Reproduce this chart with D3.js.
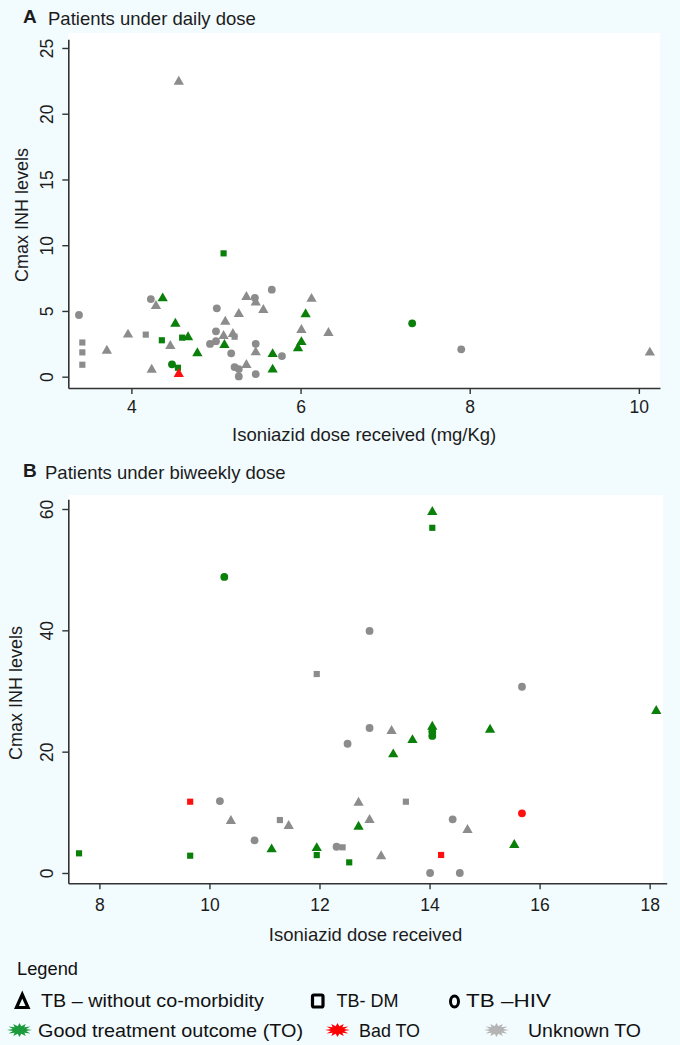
<!DOCTYPE html>
<html>
<head>
<meta charset="utf-8">
<script src="https://cdn.jsdelivr.net/npm/d3@7"></script>
<style>
  html, body { margin: 0; padding: 0; background: #f2fbfe; }
  svg { display: block; }
  text { font-family: "Liberation Sans", Arial, sans-serif; fill: #1c1c1c; }
  .leg { font-family: "Liberation Sans Narrow", "Liberation Sans", sans-serif; fill: #111; }
</style>
</head>
<body>
<script>
// ---------- Data ----------
// Panel A: patients under daily dose
const dailyDose = [3.38, 3.42, 3.42, 3.42, 3.71, 3.96, 4.17, 4.23, 4.29, 4.37, 4.24, 4.36, 4.46, 4.52, 4.48, 4.55, 4.56, 4.60, 4.67, 4.78,
  4.93, 5.01, 5.00, 5.00, 5.09, 5.10, 5.09, 5.11, 5.20, 5.22, 5.18, 5.27, 5.22, 5.27, 5.27, 5.36, 5.36, 5.46, 5.47, 5.47,
  5.47, 5.47, 5.56, 5.66, 5.67, 5.67, 5.78, 5.97, 6.01, 6.01, 6.06, 6.13, 6.33, 7.32, 7.90, 10.13, 4.56];
const dailyCmax = [4.69, 2.60, 1.85, 0.91, 1.98, 3.20, 3.20, 5.90, 5.38, 5.96, 0.53, 2.77, 2.33, 4.03, 0.94, 0.68, 0.20, 2.97, 3.00, 1.78,
  2.49, 5.20, 3.45, 2.70, 3.10, 2.41, 9.38, 4.18, 3.25, 3.04, 1.78, 4.77, 0.73, 0.58, 0.02, 0.89, 6.06, 6.00, 5.65, 2.50,
  1.85, 0.20, 5.07, 6.62, 1.72, 0.54, 1.57, 2.16, 2.63, 3.55, 4.75, 5.92, 3.32, 4.06, 2.08, 1.83, 22.43];
// group: T = TB without co-morbidity, D = TB-DM, H = TB-HIV
const dailyGroup = ["H", "D", "D", "D", "T", "T", "D", "H", "T", "T", "T", "D", "T", "T", "H", "D", "T", "D", "T", "T",
  "H", "H", "H", "H", "T", "T", "D", "T", "T", "D", "H", "T", "H", "H", "H", "T", "T", "H", "T", "H",
  "T", "H", "T", "H", "T", "T", "H", "T", "T", "T", "T", "T", "T", "H", "H", "T", "T"];
// outcome: G = good, B = bad, U = unknown
const dailyOutcome = ["U", "U", "U", "U", "U", "U", "U", "U", "U", "G", "U", "G", "U", "G", "G", "G", "B", "G", "G", "G",
  "U", "U", "U", "U", "U", "G", "G", "U", "U", "U", "U", "U", "U", "U", "U", "U", "U", "U", "U", "U",
  "U", "U", "U", "U", "G", "G", "U", "G", "G", "U", "G", "U", "U", "G", "U", "U", "U"];

// Panel B: patients under biweekly dose
const biweeklyDose = [7.63, 9.65, 9.65, 10.19, 10.27, 10.39, 10.82, 11.13, 11.28, 11.44, 11.95, 11.95, 11.95, 12.31, 12.42, 12.51, 12.54, 12.71, 12.71, 12.91,
  12.91, 12.91, 13.12, 13.31, 13.34, 13.57, 13.69, 14.01, 14.05, 14.05, 14.05, 14.05, 14.05, 14.21, 14.42, 14.55, 14.69, 15.10, 15.54, 15.68,
  15.68, 18.12];
const biweeklyCmax = [3.24, 11.75, 2.85, 11.86, 48.8, 8.56, 5.39, 3.90, 8.73, 7.74, 4.10, 2.95, 32.8, 4.33, 4.23, 21.3, 1.75, 11.58, 7.63, 8.73,
  39.9, 23.9, 2.75, 23.4, 19.55, 11.75, 21.9, 0.0, 59.5, 56.9, 24.1, 23.3, 22.6, 2.97, 8.84, 0.0, 7.08, 23.6, 4.61, 30.7,
  9.83, 26.7];
const biweeklyGroup = ["D", "D", "D", "H", "H", "T", "H", "T", "D", "T", "T", "D", "D", "H", "D", "H", "D", "T", "T", "T",
  "H", "H", "T", "T", "T", "D", "T", "H", "T", "D", "T", "H", "H", "D", "H", "H", "T", "T", "T", "H",
  "H", "T"];
const biweeklyOutcome = ["G", "B", "G", "U", "G", "U", "U", "G", "U", "U", "G", "G", "U", "U", "U", "U", "G", "U", "G", "U",
  "U", "U", "U", "U", "G", "U", "G", "U", "G", "G", "G", "G", "G", "B", "U", "U", "U", "G", "G", "U",
  "B", "G"];

// Tick values / labels
const dailyXTicks = [4, 6, 8, 10];
const dailyYTicks = [0, 5, 10, 15, 20, 25];
const biweeklyXTicks = [8, 10, 12, 14, 16, 18];
const biweeklyYTicks = [0, 20, 40, 60];

const groupLabels = ["TB \u2013 without co-morbidity", "TB- DM", "TB \u2013HIV"];
const outcomeLabels = ["Good treatment outcome (TO)", "Bad TO", "Unknown TO"];

// ---------- Styles ----------
const W = 680, H = 1045;
const outcomeColor = { G: "#0a800a", B: "#ff1010", U: "#8c8c8c" };
const axisColor = "#333";

const svg = d3.select("body").append("svg").attr("width", W).attr("height", H);
svg.append("rect").attr("width", W).attr("height", H).attr("fill", "#f2fbfe");

function markerPath(g) {
  if (g === "T") {
    return d3.symbol().type(d3.symbolTriangle).size(46)();
  } else if (g === "D") {
    return d3.symbol().type(d3.symbolSquare).size(38)();
  }
  return d3.symbol().type(d3.symbolCircle).size(48)();
}

function panel(cfg) {
  const x = d3.scaleLinear().domain(cfg.xDomain).range([cfg.left, cfg.right]);
  const y = d3.scaleLinear().domain(cfg.yDomain).range([cfg.bottom, cfg.top]);

  svg.append("rect").attr("x", cfg.left).attr("y", cfg.plotTop)
    .attr("width", cfg.plotRight - cfg.left).attr("height", cfg.bottom - cfg.plotTop)
    .attr("fill", "#ffffff");

  const gx = svg.append("g").attr("transform", `translate(0,${cfg.bottom})`)
    .call(d3.axisBottom(x).tickValues(cfg.xTicks).tickSize(6).tickSizeOuter(0).tickFormat(d3.format("d")));
  gx.select(".domain").attr("stroke", axisColor).attr("stroke-width", 1.6);
  gx.selectAll(".tick line").attr("stroke", axisColor).attr("stroke-width", 1.4);
  gx.selectAll(".tick text").attr("y", cfg.xLabelOffset).attr("dy", 0)
    .style("font-size", "17.5px").style("font-family", "Liberation Sans, Arial, sans-serif").attr("fill", "#1c1c1c");

  const gy = svg.append("g").attr("transform", `translate(${cfg.left},0)`)
    .call(d3.axisLeft(y).tickValues(cfg.yTicks).tickSize(6).tickSizeOuter(0).tickFormat(d3.format("d")));
  gy.select(".domain").attr("stroke", axisColor).attr("stroke-width", 1.6);
  gy.selectAll(".tick line").attr("stroke", axisColor).attr("stroke-width", 1.4);
  gy.selectAll(".tick text").attr("transform", "rotate(-90)").attr("x", 0).attr("y", -15).attr("dy", 0)
    .style("text-anchor", "middle")
    .style("font-size", "17.5px").style("font-family", "Liberation Sans, Arial, sans-serif").attr("fill", "#1c1c1c");

  svg.append("text").attr("x", 23).attr("y", cfg.titleY).style("font-size", "19px").style("font-weight", "bold").text(cfg.letter);
  svg.append("text").attr("x", cfg.titleX).attr("y", cfg.titleY + 2).style("font-size", "18.5px").text(cfg.title);
  svg.append("text").attr("x", (cfg.left + cfg.right) / 2 + cfg.xTitleShift).attr("y", cfg.xTitleY)
    .attr("text-anchor", "middle").style("font-size", "18.5px").text(cfg.xTitle);
  svg.append("text").attr("transform", `translate(${cfg.yTitleX},${cfg.yTitleCY}) rotate(-90)`)
    .attr("text-anchor", "middle").style("font-size", "18px").text("Cmax INH levels");

  const pts = cfg.dose.map((d, i) => ({ x: d, y: cfg.cmax[i], g: cfg.group[i], o: cfg.outcome[i] }));
  svg.append("g").selectAll("path").data(pts).join("path")
    .attr("d", d => markerPath(d.g))
    .attr("transform", d => `translate(${x(d.x)},${y(d.y)})`)
    .attr("fill", d => outcomeColor[d.o]);
}

panel({
  letter: "A", title: "Patients under daily dose", titleX: 48, titleY: 23,
  xDomain: [3.254, 10.25], yDomain: [-0.86, 25.66],
  left: 68.3, right: 660, top: 39.3, bottom: 388, plotTop: 33, plotRight: 660,
  xTicks: dailyXTicks, yTicks: dailyYTicks, xLabelOffset: 25,
  xTitle: "Isoniazid dose received (mg/Kg)", xTitleY: 441, xTitleShift: 0,
  yTitleX: 28, yTitleCY: 215,
  dose: dailyDose, cmax: dailyCmax, group: dailyGroup, outcome: dailyOutcome
});

panel({
  letter: "B", title: "Patients under biweekly dose", titleX: 45, titleY: 477,
  xDomain: [7.435, 18.31], yDomain: [-1.7, 61.6],
  left: 68.3, right: 666.7, top: 499.3, bottom: 883.3, plotTop: 495, plotRight: 663,
  xTicks: biweeklyXTicks, yTicks: biweeklyYTicks, xLabelOffset: 28,
  xTitle: "Isoniazid dose received", xTitleY: 941, xTitleShift: -2,
  yTitleX: 22, yTitleCY: 693,
  dose: biweeklyDose, cmax: biweeklyCmax, group: biweeklyGroup, outcome: biweeklyOutcome
});

// ---------- Legend ----------
function starPath(cx, cy, rx, ry, n, inner) {
  const pts = [];
  for (let i = 0; i < n * 2; i++) {
    const a = Math.PI * i / n;
    const r = i % 2 === 0 ? 1 : inner;
    pts.push([cx + Math.cos(a) * rx * r, cy + Math.sin(a) * ry * r]);
  }
  return "M" + pts.map(p => p.join(",")).join("L") + "Z";
}

const leg = svg.append("g");
leg.append("text").attr("class", "leg").attr("x", 17).attr("y", 975).style("font-size", "19px")
  .attr("textLength", 61).attr("lengthAdjust", "spacingAndGlyphs").text("Legend");

const row1 = 1007, row2 = 1037;
leg.append("path").attr("d", `M16.5,${row1 + 0.5} L28,${row1 + 0.5} L22.25,${row1 - 12.5} Z`)
  .attr("fill", "none").attr("stroke", "#000").attr("stroke-width", 3.2).attr("stroke-linejoin", "miter");
leg.append("rect").attr("x", 312.5).attr("y", row1 - 12).attr("width", 10.5).attr("height", 12).attr("rx", 1.5)
  .attr("fill", "none").attr("stroke", "#000").attr("stroke-width", 3.2);
leg.append("ellipse").attr("cx", 454.5).attr("cy", row1 - 5.5).attr("rx", 4).attr("ry", 5.5)
  .attr("fill", "none").attr("stroke", "#000").attr("stroke-width", 3);

const r1x = [41, 336.5, 466], r1w = [223, 62, 85];
groupLabels.forEach((t, i) => {
  leg.append("text").attr("class", "leg").attr("x", r1x[i]).attr("y", row1).style("font-size", "19px")
    .attr("textLength", r1w[i]).attr("lengthAdjust", "spacingAndGlyphs").text(t);
});

const starCx = [19.5, 337.5, 496.5], starCol = ["#1a9a3a", "#ff0000", "#b4b4b4"];
starCx.forEach((cx, i) => {
  leg.append("path").attr("d", starPath(cx, row2 - 7, 12.5, 7, 12, 0.55)).attr("fill", starCol[i]);
});
const r2x = [38, 359, 528], r2w = [265, 61, 113];
outcomeLabels.forEach((t, i) => {
  leg.append("text").attr("class", "leg").attr("x", r2x[i]).attr("y", row2).style("font-size", "19px")
    .attr("textLength", r2w[i]).attr("lengthAdjust", "spacingAndGlyphs").text(t);
});
</script>
</body>
</html>
